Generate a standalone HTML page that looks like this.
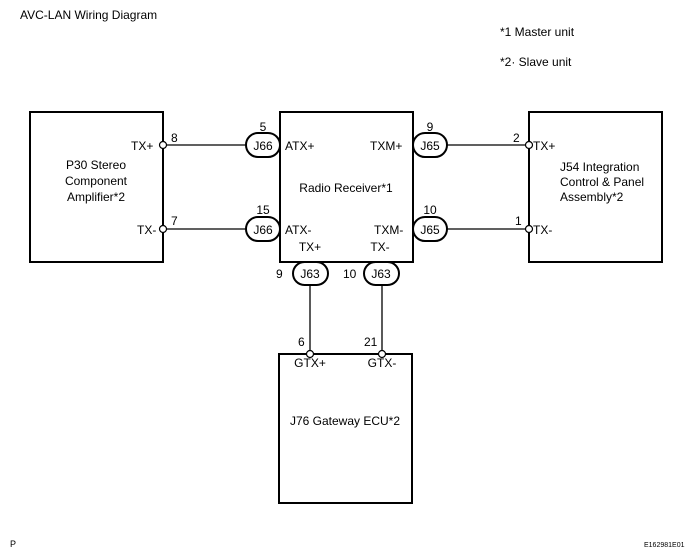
<!DOCTYPE html>
<html><head><style>body{margin:0;background:#fff}</style></head><body>
<svg width="690" height="549" xmlns="http://www.w3.org/2000/svg" font-family="Liberation Sans, sans-serif" font-size="12" fill="#000">
<rect width="690" height="549" fill="#fff"/>
<text x="20" y="19" font-size="12">AVC-LAN Wiring Diagram</text>
<text x="500" y="36">*1  Master unit</text>
<text x="500" y="66">*2· Slave unit</text>
<g fill="none" stroke="#000" stroke-width="2">
<rect x="30" y="112" width="133" height="150"/>
<rect x="280" y="112" width="133" height="150"/>
<rect x="529" y="112" width="133" height="150"/>
<rect x="279" y="354" width="133" height="149"/>
</g>
<g stroke="#000" stroke-width="1.3" fill="none">
<line x1="163" y1="145" x2="246" y2="145"/><line x1="163" y1="229" x2="246" y2="229"/>
<line x1="447" y1="145" x2="529" y2="145"/><line x1="447" y1="229" x2="529" y2="229"/>
<line x1="310" y1="285" x2="310" y2="354"/><line x1="382" y1="285" x2="382" y2="354"/>
</g>
<g fill="#fff" stroke="#000" stroke-width="2">
<rect x="246" y="133" width="34" height="24" rx="12"/>
<rect x="246" y="217" width="34" height="24" rx="12"/>
<rect x="413" y="133" width="34" height="24" rx="12"/>
<rect x="413" y="217" width="34" height="24" rx="12"/>
<rect x="293" y="262" width="35" height="23" rx="11.5"/>
<rect x="364" y="262" width="35" height="23" rx="11.5"/>
</g>
<g fill="#fff" stroke="#000" stroke-width="1.2">
<circle cx="163" cy="145" r="3.5"/><circle cx="163" cy="229" r="3.5"/>
<circle cx="529" cy="145" r="3.5"/><circle cx="529" cy="229" r="3.5"/>
<circle cx="310" cy="354" r="3.5"/><circle cx="382" cy="354" r="3.5"/>
</g>
<g text-anchor="middle">
<text x="263" y="150">J66</text><text x="263" y="234">J66</text>
<text x="430" y="150">J65</text><text x="430" y="234">J65</text>
<text x="310" y="278">J63</text><text x="381" y="278">J63</text>
<text x="263" y="131">5</text><text x="263" y="214">15</text>
<text x="430" y="131">9</text><text x="430" y="214">10</text>
<text x="96" y="169">P30 Stereo</text><text x="96" y="185">Component</text><text x="96" y="201">Amplifier*2</text>
<text x="346" y="192">Radio Receiver*1</text>
<text x="310" y="251">TX+</text><text x="380" y="251">TX-</text>
<text x="310" y="367">GTX+</text><text x="382" y="367">GTX-</text>
<text x="345" y="425">J76 Gateway ECU*2</text>
</g>
<text x="131" y="150">TX+</text><text x="137" y="234">TX-</text>
<text x="171" y="142">8</text><text x="171" y="225">7</text>
<text x="285" y="150">ATX+</text><text x="285" y="234">ATX-</text>
<text x="370" y="150">TXM+</text><text x="374" y="234">TXM-</text>
<text x="513" y="142">2</text><text x="515" y="225">1</text>
<text x="533" y="150">TX+</text><text x="533" y="234">TX-</text>
<text x="560" y="171">J54 Integration</text><text x="560" y="186">Control &amp; Panel</text><text x="560" y="201">Assembly*2</text>
<text x="276" y="278">9</text><text x="343" y="278">10</text>
<text x="298" y="346">6</text><text x="364" y="346">21</text>
<text x="10" y="547" font-size="9">P</text>
<text x="644" y="547" font-size="7">E162981E01</text>
</svg>
</body></html>
